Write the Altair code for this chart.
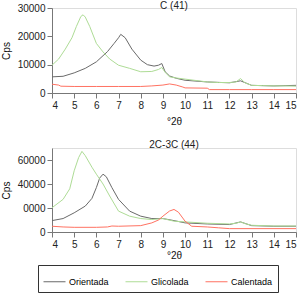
import altair as alt
import pandas as pd

series_names = ["Orientada", "Glicolada", "Calentada"]
series_colors = ["#6a6a6a", "#aedc96", "#ff7262"]

# Panel C (41)
c_ori_x = [4, 4.5, 5, 5.5, 6, 6.5, 6.8, 7.0, 7.1, 7.3, 7.6, 8.0, 8.3, 8.6, 8.8, 8.95, 9.1, 9.3, 9.6, 10, 11, 12, 12.5, 13, 14, 15]
c_ori_y = [5700, 5900, 7100, 8700, 11000, 14600, 17500, 19500, 20700, 19500, 15500, 11600, 10000, 9500, 9800, 10400, 7500, 6000, 5200, 4500, 3900, 3600, 4300, 2700, 2500, 2700]
c_gli_x = [4, 4.3, 4.6, 4.9, 5.1, 5.3, 5.4, 5.5, 5.7, 6.0, 6.3, 6.6, 7.0, 7.5, 8.0, 8.5, 8.8, 8.95, 9.1, 9.3, 9.6, 10, 10.5, 11, 11.5, 12, 12.3, 12.5, 12.7, 13, 13.5, 14, 14.5, 15]
c_gli_y = [9800, 12000, 15500, 19500, 23500, 27000, 27600, 26800, 23500, 17500, 14500, 12000, 9800, 8700, 7500, 7600, 8300, 9000, 7300, 5700, 5300, 4900, 4400, 3900, 3700, 3700, 3900, 5100, 3600, 2700, 2600, 2500, 2500, 2400]
c_cal_x = [4, 4.3, 4.4, 5, 6, 7, 8, 8.5, 9, 9.3, 9.6, 9.9, 10, 11, 11.1, 12, 13, 14, 15]
c_cal_y = [3100, 2800, 2400, 2300, 2300, 2300, 2300, 2500, 2800, 3200, 2800, 2100, 1800, 1700, 1200, 1200, 1200, 1200, 1200]

# Panel 2C-3C (44)
d_ori_x = [4, 4.5, 5, 5.5, 5.8, 6, 6.15, 6.3, 6.45, 6.7, 7, 7.5, 8, 8.5, 9, 9.5, 10, 11, 12, 12.5, 13, 14, 15]
d_ori_y = [9500, 11200, 16000, 21600, 28000, 37000, 45000, 48200, 46000, 37000, 27200, 17400, 13200, 11200, 11200, 9500, 7600, 6700, 6200, 8400, 5300, 4800, 4800]
d_gli_x = [4, 4.5, 4.8, 5, 5.2, 5.35, 5.5, 5.8, 6, 6.3, 6.6, 7, 7.5, 8, 8.5, 9, 9.5, 10, 11, 12, 12.3, 12.5, 12.7, 13, 14, 15]
d_gli_y = [20200, 27200, 36000, 51000, 62000, 67200, 63600, 54000, 48200, 40000, 30000, 17400, 13200, 11200, 10400, 11200, 9000, 8400, 7300, 6700, 7300, 8400, 7000, 5600, 5000, 5000]
d_cal_x = [4, 4.5, 5, 6, 6.5, 6.7, 7, 8, 8.5, 8.8, 9, 9.3, 9.5, 9.7, 10, 10.3, 11, 11.5, 12, 15]
d_cal_y = [4800, 4200, 3900, 3900, 4200, 5000, 4800, 5300, 7600, 10000, 13200, 17500, 18800, 16500, 9000, 4800, 4200, 3500, 2800, 2800]

x_ticks = list(range(4, 16))


def frame(parts):
    rows = []
    for name, xs, ys in parts:
        for i, (a, b) in enumerate(zip(xs, ys)):
            rows.append({"serie": name, "x": a, "y": b, "o": i})
    return pd.DataFrame(rows)


df_c = frame([("Orientada", c_ori_x, c_ori_y), ("Glicolada", c_gli_x, c_gli_y), ("Calentada", c_cal_x, c_cal_y)])
df_d = frame([("Orientada", d_ori_x, d_ori_y), ("Glicolada", d_gli_x, d_gli_y), ("Calentada", d_cal_x, d_cal_y)])

color = alt.Color(
    "serie:N",
    scale=alt.Scale(domain=series_names, range=series_colors),
    legend=alt.Legend(
        title=None,
        orient="none",
        legendX=-14,
        legendY=257,
        direction="horizontal",
        symbolType="stroke",
        symbolSize=484,
        symbolStrokeWidth=1,
        strokeColor="#333",
        padding=5,
        labelFontSize=9,
        columnPadding=14,
        labelOffset=3,
        zindex=0,
    ),
)


def panel(df, title, dom, ticks, h, title_offset, x_title_pad, label_expr=None):
    yaxis = dict(values=ticks, format="d", title="Cps", titlePadding=6, tickSize=5, labelPadding=2)
    if label_expr:
        yaxis["labelExpr"] = label_expr
    return (
        alt.Chart(df, title=alt.Title(title, fontSize=10, fontWeight="normal", offset=title_offset))
        .mark_line(strokeWidth=1, clip=True)
        .encode(
            x=alt.X("x:Q", scale=alt.Scale(domain=[4, 15], nice=False, zero=False),
                    axis=alt.Axis(values=x_ticks, title="°2θ", tickSize=5, titlePadding=x_title_pad,
                                  labelPadding=2)),
            y=alt.Y("y:Q", scale=alt.Scale(domain=dom, nice=False), axis=alt.Axis(**yaxis)),
            color=color,
            order="o:Q",
        )
        .properties(width=244, height=h)
    )


top = panel(df_c, "C (41)", [0, 30000], [0, 10000, 20000, 30000], 85, -8, 6)
bottom = panel(df_d, "2C-3C (44)", [0, 70000], [0, 20000, 40000, 60000], 84, -2, 1,
               label_expr="datum.value == 20000 ? '0000' : datum.label")

chart = (
    alt.vconcat(top, bottom, spacing=12)
    .properties(padding={"left": 0, "top": 0, "right": 0, "bottom": 0})
    .configure_view(stroke=None)
    .configure(font="Liberation Sans")
    .configure_axis(labelFontSize=10, titleFontSize=10, titleFontWeight="normal",
                    domainColor="#777", tickColor="#777", labelColor="#222", titleColor="#111", grid=False)
    .configure_title(color="#222")
)

chart.save("out.html", embed_options={"renderer": "svg", "actions": False})
